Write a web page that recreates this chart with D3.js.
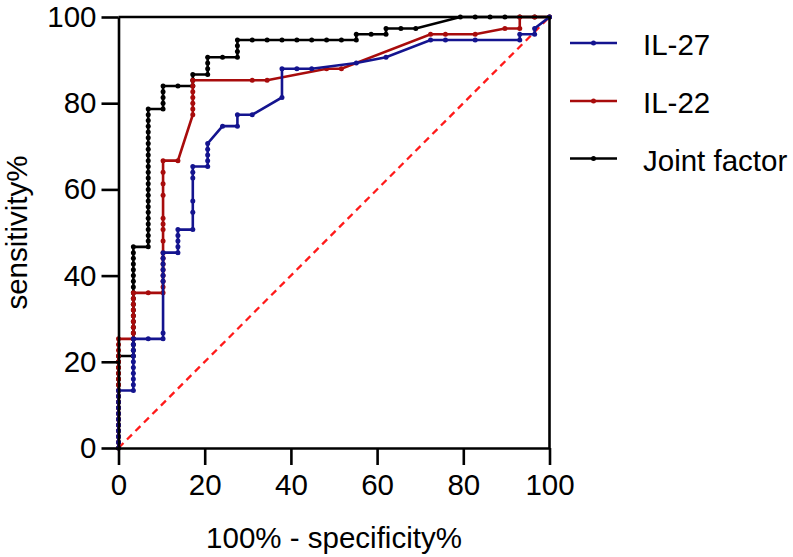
<!DOCTYPE html>
<html>
<head>
<meta charset="utf-8">
<script src="https://cdn.jsdelivr.net/npm/d3@7"></script>
<style>
  html, body { margin: 0; padding: 0; background: #fff; }
  svg { display: block; }
  text { font-family: "Liberation Sans", Arial, sans-serif; fill: #000; }
</style>
</head>
<body>
<svg id="chart" width="793" height="557"></svg>
<script>
// ---------------- data (percent) ----------------
const xTicks = [0, 20, 40, 60, 80, 100];
const yTicks = [0, 20, 40, 60, 80, 100];
const seriesNames = ["IL-27", "IL-22", "Joint factor"];
const seriesColors = ["#14148f", "#a80c0c", "#000000"];

// IL-27: 100% - specificity% and sensitivity%
const il27X = [0,0,0,0,0,0,0,0,0,0,0,
  3.45,3.45,3.45,3.45,3.45,3.45,3.45,3.45,3.45,3.45,
  6.90,
  10.34,10.34,10.34,10.34,10.34,10.34,10.34,10.34,
  13.79,13.79,13.79,13.79,13.79,
  17.24,17.24,17.24,17.24,17.24,17.24,
  20.69,20.69,20.69,20.69,20.69,
  24.14,27.59,27.59,31.03,
  37.93,37.93,41.38,44.83,55.17,62.07,
  72.41,75.86,82.76,93.10,93.10,96.55,96.55,100];
const il27Y = [0,1.33,2.67,4,5.33,6.67,8,9.33,10.67,12,13.33,
  13.33,14.67,16,17.33,18.67,20,21.33,22.67,24,25.33,
  25.33,
  25.33,26.67,38.67,40,41.33,42.67,44,45.33,
  45.33,46.67,48,49.33,50.67,
  50.67,54.67,57.33,62.67,64,65.33,
  65.33,66.67,68,69.33,70.67,
  74.67,74.67,77.33,77.33,
  81.33,88,88,88,89.33,90.67,
  94.67,94.67,94.67,94.67,96,96,97.33,100];

// IL-22
const il22X = [0,0,0,0,0,0,0,0,0,0,0,0,0,0,0,0,0,0,0,0,
  3.45,3.45,3.45,3.45,3.45,3.45,3.45,3.45,3.45,
  6.90,
  10.34,10.34,10.34,10.34,10.34,10.34,10.34,10.34,10.34,10.34,10.34,10.34,10.34,10.34,10.34,10.34,
  13.79,
  17.24,17.24,17.24,17.24,17.24,17.24,17.24,
  31.03,34.48,48.28,51.72,
  72.41,75.86,82.76,89.66,93.10,93.10,96.55,100];
const il22Y = [0,1.33,2.67,4,5.33,6.67,8,9.33,10.67,12,13.33,14.67,16,17.33,18.67,20,21.33,22.67,24,25.33,
  25.33,26.67,28,29.33,30.67,32,33.33,34.67,36,
  36,
  36,37.33,38.67,40,41.33,42.67,44,45.33,48,50.67,52,53.33,58.67,61.33,64,66.67,
  66.67,
  77.33,78.67,80,81.33,82.67,84,85.33,
  85.33,85.33,88,88,
  96,96,96,97.33,97.33,100,100,100];

// Joint factor
const jointX = [0,0,0,0,0,0,0,0,0,0,0,0,0,0,0,0,0,
  3.45,3.45,3.45,3.45,3.45,3.45,3.45,3.45,3.45,3.45,3.45,3.45,3.45,3.45,3.45,3.45,3.45,3.45,3.45,3.45,
  6.90,6.90,6.90,6.90,6.90,6.90,6.90,6.90,6.90,6.90,6.90,6.90,6.90,6.90,6.90,6.90,6.90,6.90,6.90,6.90,6.90,6.90,6.90,6.90,6.90,
  10.34,10.34,10.34,10.34,10.34,
  13.79,
  17.24,17.24,17.24,
  20.69,20.69,20.69,20.69,
  24.14,
  27.59,27.59,27.59,27.59,
  31.03,34.48,37.93,41.38,44.83,48.28,51.72,55.17,
  55.17,58.62,62.07,62.07,65.52,68.97,
  79.31,82.76,86.21,89.66,93.10,96.55,100];
const jointY = [0,1.33,2.67,4,5.33,6.67,8,9.33,10.67,12,13.33,14.67,16,17.33,18.67,20,21.33,
  21.33,22.67,24,25.33,26.67,28,29.33,30.67,32,33.33,34.67,36,37.33,38.67,40,41.33,42.67,44,45.33,46.67,
  46.67,48,49.33,50.67,52,53.33,54.67,56,57.33,58.67,60,61.33,62.67,64,65.33,66.67,68,69.33,70.67,72,73.33,74.67,76,77.33,78.67,
  78.67,80,81.33,82.67,84,
  84,
  84,85.33,86.67,
  86.67,88,89.33,90.67,
  90.67,
  90.67,92,93.33,94.67,
  94.67,94.67,94.67,94.67,94.67,94.67,94.67,94.67,
  96,96,96,97.33,97.33,97.33,
  100,100,100,100,100,100,100];

const refLineX = [0, 100];
const refLineY = [0, 100];

// ---------------- drawing ----------------
const svg = d3.select("#chart");
const x = d3.scaleLinear().domain([0, 100]).range([118.5, 549.5]);
const y = d3.scaleLinear().domain([0, 100]).range([448, 17]);
const FS = 29.5;

const zip = (xs, ys) => xs.map((v, i) => [v, ys[i]]);
const series = [
  { name: seriesNames[0], color: seriesColors[0], pts: zip(il27X, il27Y) },
  { name: seriesNames[1], color: seriesColors[1], pts: zip(il22X, il22Y) },
  { name: seriesNames[2], color: seriesColors[2], pts: zip(jointX, jointY) }
];

const line = d3.line().x(d => x(d[0])).y(d => y(d[1]));

// reference diagonal
svg.append("path")
  .datum(zip(refLineX, refLineY))
  .attr("d", line)
  .attr("fill", "none")
  .attr("stroke", "#ff1a1a")
  .attr("stroke-width", 2.3)
  .attr("stroke-dasharray", "7,5");

// curves: Joint first (bottom), then IL-22, then IL-27 on top
[series[2], series[1], series[0]].forEach(s => {
  const g = svg.append("g");
  g.append("path")
    .datum(s.pts)
    .attr("d", line)
    .attr("fill", "none")
    .attr("stroke", s.color)
    .attr("stroke-width", 2.6)
    .attr("stroke-linejoin", "miter");
  g.selectAll("circle")
    .data(s.pts)
    .join("circle")
    .attr("cx", d => x(d[0]))
    .attr("cy", d => y(d[1]))
    .attr("r", 2.5)
    .attr("fill", s.color);
});

// axes
const xAxis = d3.axisBottom(x).tickValues(xTicks).tickSize(17).tickSizeOuter(0).tickPadding(9);
const yAxis = d3.axisLeft(y).tickValues(yTicks).tickSize(17).tickSizeOuter(0).tickPadding(5);

const gx = svg.append("g").attr("transform", `translate(0,${y(0)})`).call(xAxis);
const gy = svg.append("g").attr("transform", `translate(${x(0)},0)`).call(yAxis);
[gx, gy].forEach(g => {
  g.selectAll("path.domain").attr("stroke", "#000").attr("stroke-width", 2.6);
  g.selectAll(".tick line").attr("stroke", "#000").attr("stroke-width", 2.6);
  g.selectAll(".tick text")
    .attr("font-size", FS)
    .attr("font-family", '"Liberation Sans", Arial, sans-serif')
    .attr("fill", "#000");
});

// top and right frame
svg.append("line").attr("x1", x(0)).attr("x2", x(100) + 1.3).attr("y1", y(100)).attr("y2", y(100))
  .attr("stroke", "#000").attr("stroke-width", 2.6);
svg.append("line").attr("x1", x(100)).attr("x2", x(100)).attr("y1", y(100)).attr("y2", y(0))
  .attr("stroke", "#000").attr("stroke-width", 2.6);

// axis titles
svg.append("text")
  .attr("x", (x(0) + x(100)) / 2)
  .attr("y", 548)
  .attr("text-anchor", "middle")
  .attr("font-size", FS)
  .text("100% - specificity%");

svg.append("text")
  .attr("transform", `translate(27,${(y(0) + y(100)) / 2}) rotate(-90)`)
  .attr("text-anchor", "middle")
  .attr("font-size", FS)
  .text("sensitivity%");

// legend
const legBase = [55, 113, 170.5];
series.forEach((s, i) => {
  const cy = legBase[i] - 12;
  svg.append("line")
    .attr("x1", 570).attr("x2", 617)
    .attr("y1", cy).attr("y2", cy)
    .attr("stroke", s.color).attr("stroke-width", 2.6);
  svg.append("circle").attr("cx", 593.5).attr("cy", cy).attr("r", 2.5).attr("fill", s.color);
  svg.append("text")
    .attr("x", 643).attr("y", legBase[i])
    .attr("font-size", FS)
    .text(s.name);
});
</script>
</body>
</html>
